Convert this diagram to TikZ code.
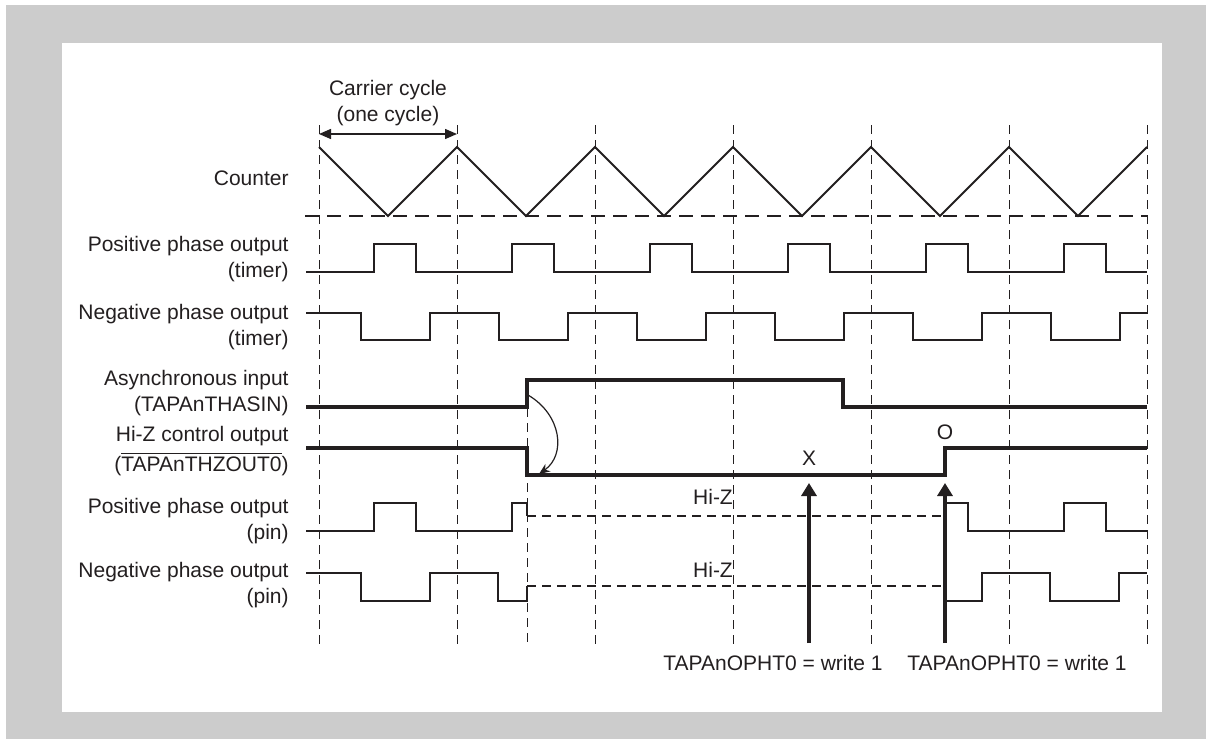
\documentclass[tikz,border=0pt]{standalone}
\usepackage{fontspec}
\setmainfont{Liberation Sans}
\usetikzlibrary{arrows.meta}
\definecolor{ink}{HTML}{231F20}
\definecolor{frame}{HTML}{CCCCCC}

\begin{document}
\begin{tikzpicture}[x=0.5pt, y=-0.5pt, font=\fontsize{10.5}{12.6}\selectfont, ink,
          lbl/.style={anchor=east, align=right, inner sep=0pt},
          txt/.style={inner sep=0pt},
          grid/.style={draw=ink, line width=0.5pt, dash pattern=on 4.5pt off 3pt},
          wave/.style={draw=ink, line width=1pt},
          bold/.style={draw=ink, line width=1.7pt},
          hiz/.style={draw=ink, line width=1pt, dash pattern=on 4.5pt off 3pt},
          write/.style={draw=ink, line width=1.7pt, -{Triangle[length=6.5pt, width=7.5pt]}}]
        \useasboundingbox (0,0) rectangle (1212,744);
        \fill[white] (0,0) rectangle (1212,744);
        \fill[frame] (6,5) rectangle (1206,739);
        \fill[white] (62,43) rectangle (1162,712);

        \foreach \x in {319,457,...,1147} \draw[grid] (\x,125) -- (\x,647);
        \draw[grid] (527,408) -- (527,647);

        \node[txt, align=center] (carrier) at (388,103) {Carrier cycle\\(one cycle)};
        \coordinate (cc1) at (319,134);
        \coordinate (cc2) at (457,134);
        \draw[line width=0.7pt, {Triangle[length=6pt, width=5pt]}-{Triangle[length=6pt, width=5pt]}] (cc1) -- (cc2);

        \node[lbl] (counter) at (289,178) {Counter};
        \node[lbl] (postimer) at (289,259) {Positive phase output\\(timer)};
        \node[lbl] (negtimer) at (289,327) {Negative phase output\\(timer)};
        \node[lbl] (async) at (289,393) {Asynchronous input\\(TAPAnTHASIN)};
        \node[lbl] (hizctl) at (289,451) {Hi-Z control output\\[2pt]($\overline{\mbox{TAPAnTHZOUT0}}$)};
        \node[lbl] (pospin) at (289,521) {Positive phase output\\(pin)};
        \node[lbl] (negpin) at (289,585) {Negative phase output\\(pin)};

        \draw[wave] (319,147) \foreach \v in {388,526,...,1078} { -- (\v,216) -- ({\v+69},147)};
        \draw[ink, line width=1.2pt, dash pattern=on 7pt off 4pt] (305,216) -- (1147,216);

        \draw[wave] (306,272) \foreach \v in {388,526,...,1078}
          { -- ({\v-14},272) -- ({\v-14},244) -- ({\v+28},244) -- ({\v+28},272)} -- (1147,272);
        \draw[wave] (306,313) \foreach \v in {388,526,...,1078}
          { -- ({\v-27},313) -- ({\v-27},340) -- ({\v+42},340) -- ({\v+42},313)} -- (1147,313);

        \draw[bold] (306,407) -- (527,407) -- (527,380) -- (843,380) -- (843,407) -- (1147,407);
        \draw[bold] (306,448) -- (527,448) -- (527,475) -- (945,475) -- (945,448) -- (1147,448);

        \draw[wave] (306,531) -- (374,531) -- (374,503) -- (416,503) -- (416,531) -- (512,531)
          -- (512,503) -- (527,503) -- (527,516);
        \draw[hiz] (527,516) -- (945,516);
        \draw[wave] (945,516) -- (945,503) -- (968,503) -- (968,531) -- (1064,531) -- (1064,503)
          -- (1106,503) -- (1106,531) -- (1147,531);

        \draw[wave] (306,573) -- (361,573) -- (361,601) -- (430,601) -- (430,573) -- (498,573)
          -- (498,601) -- (527,601) -- (527,586);
        \draw[hiz] (527,586) -- (945,586);
        \draw[wave] (945,586) -- (945,601) -- (982,601) -- (982,573) -- (1050,573) -- (1050,601)
          -- (1119,601) -- (1119,573) -- (1147,573);

        \node[txt] (hiz1) at (713,497) {Hi-Z};
        \node[txt] (hiz2) at (713,570) {Hi-Z};

        \coordinate (asyncedge) at (528,395);
        \coordinate (hizedge) at (539,474);
        \draw[line width=0.6pt, -{Stealth[length=5.5pt, width=4.5pt]}] (asyncedge) .. controls (562,415) and (566,455) .. (hizedge);

        \node[txt] (xmark) at (809,458) {X};
        \node[txt] (omark) at (945,432) {O};

        \coordinate (w1) at (809,643);
        \coordinate (x1) at (809,483);
        \coordinate (w2) at (945,643);
        \coordinate (o1) at (945,483);
        \draw[write] (w1) -- (x1);
        \draw[write] (w2) -- (o1);
        \node[txt] (write1) at (773,663) {TAPAnOPHT0 = write 1};
        \node[txt] (write2) at (1017,663) {TAPAnOPHT0 = write 1};
      \end{tikzpicture}
\end{document}
